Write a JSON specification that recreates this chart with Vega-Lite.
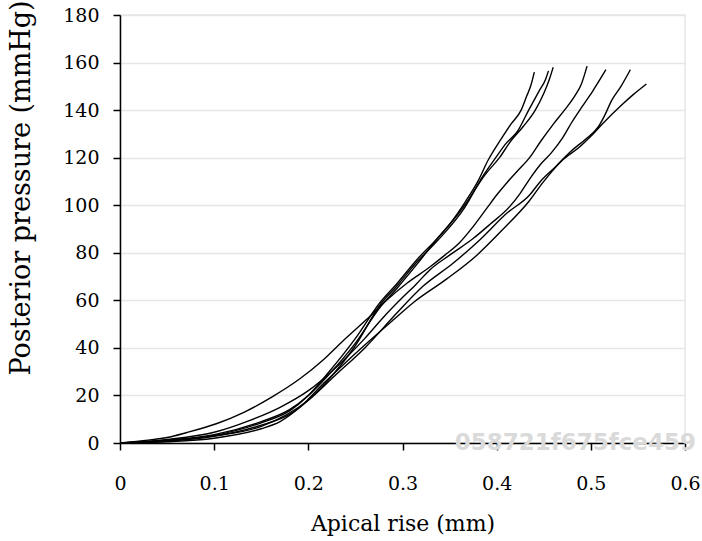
{
  "$schema": "https://vega.github.io/schema/vega-lite/v6.json",
  "autosize": {"type": "none"},
  "width": 565,
  "height": 428,
  "padding": {"left": 120, "top": 15, "right": 17, "bottom": 98},
  "background": "white",
  "config": {
    "view": {"stroke": "#e6e6e6", "strokeWidth": 1.5},
    "font": "DejaVu Serif"
  },
  "datasets": {
    "curves": [
      {"id": "A", "x": 0, "y": 0}, {"id": "A", "x": 0.05, "y": 1.2}, {"id": "A", "x": 0.1, "y": 3.5}, {"id": "A", "x": 0.15, "y": 9}, {"id": "A", "x": 0.18, "y": 14}, {"id": "A", "x": 0.2, "y": 20}, {"id": "A", "x": 0.22, "y": 28}, {"id": "A", "x": 0.25, "y": 42}, {"id": "A", "x": 0.276, "y": 57}, {"id": "A", "x": 0.294, "y": 65}, {"id": "A", "x": 0.315, "y": 75}, {"id": "A", "x": 0.337, "y": 86}, {"id": "A", "x": 0.352, "y": 93}, {"id": "A", "x": 0.366, "y": 101}, {"id": "A", "x": 0.38, "y": 110}, {"id": "A", "x": 0.391, "y": 119}, {"id": "A", "x": 0.405, "y": 128}, {"id": "A", "x": 0.415, "y": 134}, {"id": "A", "x": 0.426, "y": 140}, {"id": "A", "x": 0.432, "y": 146}, {"id": "A", "x": 0.436, "y": 150}, {"id": "A", "x": 0.44, "y": 156},
      {"id": "B1", "x": 0, "y": 0}, {"id": "B1", "x": 0.05, "y": 0.8}, {"id": "B1", "x": 0.1, "y": 2.8}, {"id": "B1", "x": 0.15, "y": 7.5}, {"id": "B1", "x": 0.18, "y": 12}, {"id": "B1", "x": 0.2, "y": 18}, {"id": "B1", "x": 0.22, "y": 26}, {"id": "B1", "x": 0.25, "y": 41}, {"id": "B1", "x": 0.276, "y": 58}, {"id": "B1", "x": 0.294, "y": 66}, {"id": "B1", "x": 0.315, "y": 76}, {"id": "B1", "x": 0.337, "y": 85}, {"id": "B1", "x": 0.366, "y": 99}, {"id": "B1", "x": 0.385, "y": 112}, {"id": "B1", "x": 0.399, "y": 120}, {"id": "B1", "x": 0.41, "y": 126}, {"id": "B1", "x": 0.422, "y": 131}, {"id": "B1", "x": 0.434, "y": 140}, {"id": "B1", "x": 0.445, "y": 148}, {"id": "B1", "x": 0.452, "y": 153}, {"id": "B1", "x": 0.455, "y": 156.5},
      {"id": "B2", "x": 0, "y": 0}, {"id": "B2", "x": 0.05, "y": 1}, {"id": "B2", "x": 0.1, "y": 3.2}, {"id": "B2", "x": 0.15, "y": 8.5}, {"id": "B2", "x": 0.18, "y": 13.5}, {"id": "B2", "x": 0.2, "y": 20}, {"id": "B2", "x": 0.22, "y": 29}, {"id": "B2", "x": 0.25, "y": 44}, {"id": "B2", "x": 0.276, "y": 59}, {"id": "B2", "x": 0.294, "y": 67}, {"id": "B2", "x": 0.315, "y": 77}, {"id": "B2", "x": 0.337, "y": 86}, {"id": "B2", "x": 0.366, "y": 100}, {"id": "B2", "x": 0.388, "y": 113}, {"id": "B2", "x": 0.403, "y": 120}, {"id": "B2", "x": 0.415, "y": 127}, {"id": "B2", "x": 0.428, "y": 133}, {"id": "B2", "x": 0.441, "y": 140}, {"id": "B2", "x": 0.45, "y": 147}, {"id": "B2", "x": 0.456, "y": 153}, {"id": "B2", "x": 0.46, "y": 158},
      {"id": "C", "x": 0, "y": 0}, {"id": "C", "x": 0.03, "y": 1.2}, {"id": "C", "x": 0.05, "y": 2.3}, {"id": "C", "x": 0.071, "y": 4.4}, {"id": "C", "x": 0.103, "y": 8.2}, {"id": "C", "x": 0.131, "y": 12.8}, {"id": "C", "x": 0.162, "y": 19.5}, {"id": "C", "x": 0.191, "y": 27}, {"id": "C", "x": 0.216, "y": 35}, {"id": "C", "x": 0.237, "y": 43}, {"id": "C", "x": 0.262, "y": 52}, {"id": "C", "x": 0.283, "y": 60}, {"id": "C", "x": 0.305, "y": 67.3}, {"id": "C", "x": 0.329, "y": 74}, {"id": "C", "x": 0.345, "y": 79}, {"id": "C", "x": 0.36, "y": 84}, {"id": "C", "x": 0.375, "y": 91}, {"id": "C", "x": 0.39, "y": 99}, {"id": "C", "x": 0.4, "y": 104.3}, {"id": "C", "x": 0.412, "y": 110}, {"id": "C", "x": 0.423, "y": 114.8}, {"id": "C", "x": 0.435, "y": 120}, {"id": "C", "x": 0.447, "y": 127}, {"id": "C", "x": 0.46, "y": 134}, {"id": "C", "x": 0.472, "y": 140}, {"id": "C", "x": 0.483, "y": 146}, {"id": "C", "x": 0.49, "y": 151}, {"id": "C", "x": 0.496, "y": 158.5},
      {"id": "D", "x": 0, "y": 0}, {"id": "D", "x": 0.05, "y": 1.5}, {"id": "D", "x": 0.1, "y": 4.5}, {"id": "D", "x": 0.138, "y": 9.5}, {"id": "D", "x": 0.17, "y": 15}, {"id": "D", "x": 0.2, "y": 22}, {"id": "D", "x": 0.23, "y": 32}, {"id": "D", "x": 0.26, "y": 44}, {"id": "D", "x": 0.28, "y": 53}, {"id": "D", "x": 0.297, "y": 60}, {"id": "D", "x": 0.315, "y": 67}, {"id": "D", "x": 0.329, "y": 72.8}, {"id": "D", "x": 0.35, "y": 79}, {"id": "D", "x": 0.375, "y": 86}, {"id": "D", "x": 0.393, "y": 92}, {"id": "D", "x": 0.414, "y": 99.5}, {"id": "D", "x": 0.425, "y": 105}, {"id": "D", "x": 0.435, "y": 111}, {"id": "D", "x": 0.446, "y": 116.9}, {"id": "D", "x": 0.458, "y": 122}, {"id": "D", "x": 0.47, "y": 128.3}, {"id": "D", "x": 0.48, "y": 135}, {"id": "D", "x": 0.49, "y": 141}, {"id": "D", "x": 0.502, "y": 148}, {"id": "D", "x": 0.516, "y": 157},
      {"id": "E", "x": 0, "y": 0}, {"id": "E", "x": 0.05, "y": 1}, {"id": "E", "x": 0.1, "y": 3}, {"id": "E", "x": 0.15, "y": 7}, {"id": "E", "x": 0.2, "y": 18}, {"id": "E", "x": 0.23, "y": 29}, {"id": "E", "x": 0.26, "y": 40}, {"id": "E", "x": 0.294, "y": 54.7}, {"id": "E", "x": 0.322, "y": 66}, {"id": "E", "x": 0.354, "y": 75.7}, {"id": "E", "x": 0.382, "y": 85.4}, {"id": "E", "x": 0.411, "y": 96.7}, {"id": "E", "x": 0.435, "y": 104.3}, {"id": "E", "x": 0.446, "y": 109.8}, {"id": "E", "x": 0.462, "y": 116}, {"id": "E", "x": 0.478, "y": 122.4}, {"id": "E", "x": 0.495, "y": 128}, {"id": "E", "x": 0.508, "y": 133}, {"id": "E", "x": 0.515, "y": 138}, {"id": "E", "x": 0.522, "y": 144}, {"id": "E", "x": 0.532, "y": 150}, {"id": "E", "x": 0.542, "y": 157},
      {"id": "F", "x": 0, "y": 0}, {"id": "F", "x": 0.05, "y": 0.5}, {"id": "F", "x": 0.1, "y": 2}, {"id": "F", "x": 0.15, "y": 6}, {"id": "F", "x": 0.17, "y": 9}, {"id": "F", "x": 0.191, "y": 15}, {"id": "F", "x": 0.216, "y": 25}, {"id": "F", "x": 0.24, "y": 34}, {"id": "F", "x": 0.265, "y": 43}, {"id": "F", "x": 0.29, "y": 51.7}, {"id": "F", "x": 0.311, "y": 58.9}, {"id": "F", "x": 0.347, "y": 69}, {"id": "F", "x": 0.379, "y": 79}, {"id": "F", "x": 0.407, "y": 90}, {"id": "F", "x": 0.435, "y": 102}, {"id": "F", "x": 0.449, "y": 109.5}, {"id": "F", "x": 0.47, "y": 119}, {"id": "F", "x": 0.488, "y": 124.5}, {"id": "F", "x": 0.5, "y": 129}, {"id": "F", "x": 0.513, "y": 134.5}, {"id": "F", "x": 0.531, "y": 141.5}, {"id": "F", "x": 0.545, "y": 146.5}, {"id": "F", "x": 0.559, "y": 151}
    ],
    "stamp": [{"label": "058721f675fce459"}]
  },
  "layer": [
    {
      "data": {"name": "curves"},
      "mark": {"type": "line", "color": "black", "strokeWidth": 1.4, "interpolate": "monotone"},
      "encoding": {
        "x": {
          "field": "x", "type": "quantitative",
          "scale": {"domain": [0, 0.6], "nice": false, "zero": true},
          "axis": {
            "values": [0, 0.1, 0.2, 0.3, 0.4, 0.5, 0.6],
            "format": "~g",
            "grid": false,
            "domainColor": "black", "domainWidth": 1.5,
            "tickColor": "black", "tickWidth": 1.5, "tickSize": 7,
            "labelFont": "DejaVu Serif", "labelFontSize": 19, "labelColor": "black",
            "labelPadding": 24, "labelFlush": false,
            "title": "Apical rise (mm)",
            "titleFont": "DejaVu Serif", "titleFontSize": 22, "titleFontWeight": "normal", "titleColor": "black",
            "titleBaseline": "alphabetic", "titleY": 87
          }
        },
        "y": {
          "field": "y", "type": "quantitative",
          "scale": {"domain": [0, 180], "nice": false},
          "axis": {
            "values": [0, 20, 40, 60, 80, 100, 120, 140, 160, 180],
            "grid": true, "gridColor": "#e6e6e6", "gridWidth": 1.5,
            "domainColor": "black", "domainWidth": 1.5,
            "tickColor": "black", "tickWidth": 1.5, "tickSize": 7,
            "labelFont": "DejaVu Serif", "labelFontSize": 19, "labelColor": "black",
            "labelPadding": 14, "labelFlush": false,
            "title": "Posterior pressure (mmHg)",
            "titleFont": "DejaVu Serif", "titleFontSize": 27, "titleFontWeight": "normal", "titleColor": "black",
            "titleAngle": 270, "titleAlign": "left", "titleBaseline": "middle",
            "titleX": -99, "titleY": 360
          }
        },
        "detail": {"field": "id"}
      }
    },
    {
      "data": {"name": "stamp"},
      "mark": {"type": "text", "font": "DejaVu Sans", "fontWeight": "bold", "fontSize": 23, "color": "#dadada", "align": "center", "baseline": "middle"},
      "encoding": {
        "x": {"datum": 0.4835, "type": "quantitative"},
        "y": {"datum": 0, "type": "quantitative"},
        "text": {"field": "label", "type": "nominal"}
      }
    }
  ]
}
